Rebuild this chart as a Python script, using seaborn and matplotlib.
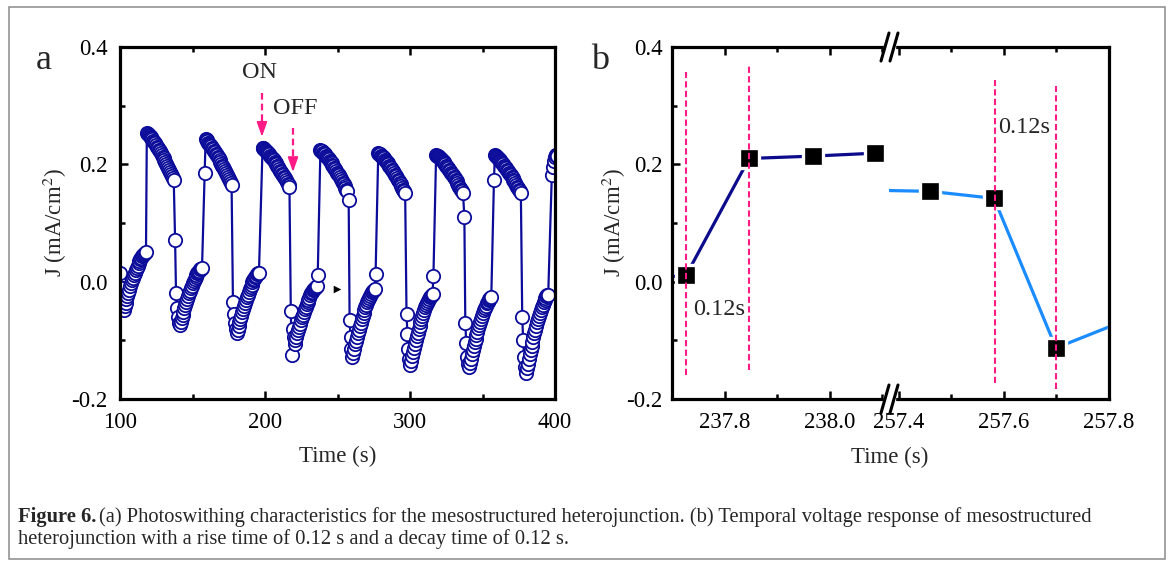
import numpy as np
import pandas as pd
import matplotlib
matplotlib.use("Agg")
import matplotlib.pyplot as plt
import seaborn as sns
from matplotlib.patches import Rectangle
from matplotlib.lines import Line2D
from matplotlib.ticker import FixedLocator, FixedFormatter

sns.set_theme(style="white")
plt.rcParams['font.family'] = ['Liberation Serif', 'DejaVu Serif']
plt.rcParams['mathtext.fontset'] = 'stix'
plt.rcParams['axes.unicode_minus'] = False

# ---------------- panel a data (photo-switching, J in mA/cm2) ----------------
dt_a = 0.64  # sampling interval (s)
seg_starts = [100.0, 118.5, 138.0, 158.4, 177.9, 198.3, 217.8, 238.2,
              257.7, 278.1, 297.6, 318.0, 337.5, 357.9, 377.4, 397.8]
off0 = [0.015, -0.010, -0.030, -0.043,
        -0.048, -0.042, -0.036, -0.030, -0.025, -0.019, -0.014, -0.008, -0.003, 0.002, 0.006,
        0.011, 0.015, 0.020, 0.024, 0.027, 0.031, 0.035, 0.038, 0.041, 0.043, 0.046, 0.048,
        0.049, 0.050]
on1 = [0.253, 0.252, 0.250, 0.249, 0.247, 0.245, 0.243, 0.240, 0.238, 0.236, 0.233, 0.230,
       0.228, 0.225, 0.222, 0.219, 0.216, 0.213, 0.210, 0.207, 0.204, 0.200, 0.197, 0.194,
       0.190, 0.187, 0.184, 0.180, 0.177, 0.173]
off1 = [0.071, -0.020, -0.045, -0.060, -0.070,
        -0.074, -0.068, -0.062, -0.056, -0.051, -0.045, -0.040, -0.035, -0.030, -0.025,
        -0.020, -0.016, -0.011, -0.007, -0.003, 0.001, 0.004, 0.008, 0.011, 0.014, 0.016,
        0.019, 0.021, 0.022, 0.023]
on2 = [0.185, 0.243, 0.241, 0.239, 0.237, 0.235, 0.233, 0.231, 0.228, 0.226, 0.223, 0.221,
       0.218, 0.216, 0.213, 0.210, 0.207, 0.204, 0.201, 0.198, 0.195, 0.192, 0.189, 0.185,
       0.182, 0.179, 0.175, 0.172, 0.168, 0.165]
off2 = [-0.035, -0.055, -0.070, -0.080,
        -0.088, -0.082, -0.075, -0.069, -0.063, -0.058, -0.052, -0.046, -0.041, -0.036,
        -0.031, -0.026, -0.022, -0.017, -0.013, -0.009, -0.005, -0.001, 0.002, 0.005, 0.008,
        0.010, 0.013, 0.014, 0.015]
on3 = [0.228, 0.227, 0.226, 0.225, 0.223, 0.221, 0.219, 0.217, 0.215, 0.213, 0.211, 0.209,
       0.207, 0.204, 0.202, 0.200, 0.197, 0.195, 0.192, 0.189, 0.187, 0.184, 0.181, 0.178,
       0.176, 0.173, 0.170, 0.167, 0.164, 0.161]
off3 = [-0.050, -0.125, -0.080, -0.095,
        -0.106, -0.100, -0.094, -0.088, -0.083, -0.077, -0.072, -0.066, -0.061, -0.056,
        -0.052, -0.047, -0.043, -0.038, -0.034, -0.031, -0.027, -0.023, -0.020, -0.017,
        -0.015, -0.012, -0.010, -0.009, -0.008, 0.011]
on4 = [0.224, 0.223, 0.222, 0.220, 0.219, 0.217, 0.215, 0.213, 0.211, 0.209, 0.206, 0.204,
       0.202, 0.199, 0.197, 0.194, 0.192, 0.189, 0.186, 0.184, 0.181, 0.178, 0.175, 0.172,
       0.169, 0.166, 0.163, 0.160, 0.157, 0.154]
off4 = [0.140, -0.065, -0.095, -0.115,
        -0.128, -0.121, -0.114, -0.107, -0.101, -0.094, -0.088, -0.082, -0.076, -0.070,
        -0.064, -0.059, -0.054, -0.049, -0.044, -0.039, -0.035, -0.031, -0.027, -0.024,
        -0.021, -0.018, -0.016, -0.014, -0.013, 0.013]
on5 = [0.219, 0.218, 0.217, 0.215, 0.214, 0.212, 0.210, 0.208, 0.206, 0.204, 0.202, 0.200,
       0.197, 0.195, 0.193, 0.190, 0.188, 0.185, 0.182, 0.180, 0.177, 0.174, 0.171, 0.169,
       0.166, 0.163, 0.160, 0.157, 0.154, 0.151]
off5 = [-0.055, -0.090, -0.115, -0.132,
        -0.142, -0.135, -0.127, -0.120, -0.113, -0.106, -0.100, -0.093, -0.087, -0.081,
        -0.075, -0.069, -0.064, -0.059, -0.054, -0.049, -0.044, -0.040, -0.036, -0.033,
        -0.029, -0.026, -0.024, -0.022, -0.021, 0.010]
on6 = [0.216, 0.215, 0.214, 0.213, 0.211, 0.209, 0.208, 0.206, 0.204, 0.202, 0.200, 0.198,
       0.195, 0.193, 0.191, 0.188, 0.186, 0.184, 0.181, 0.179, 0.176, 0.173, 0.171, 0.168,
       0.165, 0.162, 0.160, 0.157, 0.154, 0.151]
off6 = [0.110, -0.070, -0.105, -0.128, -0.141,
        -0.145, -0.138, -0.131, -0.123, -0.117, -0.110, -0.103, -0.097, -0.091, -0.085,
        -0.079, -0.074, -0.068, -0.063, -0.058, -0.053, -0.049, -0.045, -0.041, -0.037,
        -0.034, -0.031, -0.029, -0.027, -0.026]
on7 = [0.173, 0.216, 0.214, 0.213, 0.211, 0.209, 0.208, 0.206, 0.204, 0.202, 0.200, 0.198,
       0.195, 0.193, 0.191, 0.188, 0.186, 0.184, 0.181, 0.179, 0.176, 0.173, 0.171, 0.168,
       0.165, 0.162, 0.160, 0.157, 0.154, 0.151]
off7 = [-0.060, -0.100, -0.128, -0.146,
        -0.156, -0.148, -0.140, -0.132, -0.124, -0.116, -0.109, -0.102, -0.095, -0.088,
        -0.082, -0.075, -0.069, -0.064, -0.058, -0.053, -0.048, -0.043, -0.039, -0.035,
        -0.031, -0.028, -0.025, -0.023, -0.022]
on8 = [0.181, 0.195, 0.205, 0.212, 0.216, 0.216, 0.215]
segments_a = [off0, on1, off1, on2, off2, on3, off3, on4, off4, on5, off5, on6, off6, on7, off7, on8]

# odd black arrowhead mark
mark_t = [249.7]
mark_j = [-0.012]

# annotation arrows (ON / OFF): t, tail J, tip J
on_arrow = (197.9, 0.322, 0.247)
off_arrow = (219.3, 0.262, 0.187)

# ---------------- panel b data ----------------
b_rise_t = [237.60, 237.727, 237.847, 237.968, 238.086]
b_rise_j = [0.000, 0.011, 0.210, 0.214, 0.219]
b_decay_t = [257.34, 257.459, 257.581, 257.699, 257.82]
b_decay_j = [0.156, 0.154, 0.142, -0.113, -0.070]
vline_t = [237.727, 237.847, 257.583, 257.700]
vline_top = [0.357, 0.369, 0.344, 0.334]
vline_bot = [-0.159, -0.150, -0.172, -0.183]

# ticks
a_xticks = [100, 200, 300, 400]
a_xminor = [150, 250, 350]
yticks = [-0.2, 0.0, 0.2, 0.4]
yminor = [-0.1, 0.1, 0.3]
b1_xticks = [237.8, 238.0]
b1_xminor = [237.9, 238.1]
b2_xticks = [257.4, 257.6, 257.8]
b2_xminor = [257.5, 257.7]

navy = "#0c0c9a"
navy_b = "#0b0b8c"
lblue = "#1a8cff"
pink = "#ff1a85"
TS = 16.5

# ---------------- build figure ----------------
W, H = 1168, 564
fig = plt.figure(figsize=(W / 100, H / 100), dpi=100)
fig.patch.set_facecolor("white")

def px(l, t, r, b):
    return [l / W, 1 - b / H, (r - l) / W, (b - t) / H]

ax_a = fig.add_axes(px(120, 47, 555, 399))
ax_b1 = fig.add_axes(px(672, 47, 889, 399))
ax_b2 = fig.add_axes(px(889, 47, 1109, 399))

def style(ax, ypad=9):
    ax.set_facecolor("white")
    for s in ax.spines.values():
        s.set_linewidth(2.3)
        s.set_color("black")
        s.set_visible(True)
    ax.tick_params(which="both", direction="in", top=True, right=False,
                   bottom=True, left=True, width=1.8, colors="black",
                   labelsize=TS)
    ax.tick_params(axis="x", which="both", pad=9)
    ax.tick_params(axis="y", which="both", pad=ypad)
    ax.tick_params(which="major", length=6)
    ax.tick_params(which="minor", length=3.5)
    ax.grid(False)

# --- panel a ---
t_list, j_list = [], []
for st, seg in zip(seg_starts, segments_a):
    for i, v in enumerate(seg):
        t_list.append(st + i * dt_a)
        j_list.append(v)
df_a = pd.DataFrame({"t": t_list, "J": j_list})
sns.lineplot(data=df_a, x="t", y="J", ax=ax_a, sort=False, estimator=None,
             color=navy, lw=1.6, marker="o", markersize=9.6,
             markerfacecolor="white", markeredgecolor=navy,
             markeredgewidth=1.3)
sns.scatterplot(x=mark_t, y=mark_j, ax=ax_a, marker=">", s=30,
                color="black", edgecolor="black", linewidth=0, zorder=5)
ax_a.set_xlim(100, 400)
ax_a.set_ylim(-0.2, 0.4)
style(ax_a)
ax_a.xaxis.set_major_locator(FixedLocator(a_xticks))
ax_a.xaxis.set_major_formatter(FixedFormatter([str(v) for v in a_xticks]))
ax_a.xaxis.set_minor_locator(FixedLocator(a_xminor))
ax_a.yaxis.set_major_locator(FixedLocator(yticks))
ax_a.yaxis.set_major_formatter(FixedFormatter([f"{v:.1f}" for v in yticks]))
ax_a.yaxis.set_minor_locator(FixedLocator(yminor))
ax_a.set_xlabel("Time (s)", fontsize=TS)
ax_a.xaxis.set_label_coords(0.5, -0.133)
ax_a.set_ylabel("J (mA/cm$^2$)", fontsize=TS)
ax_a.yaxis.set_label_coords(-0.117, 0.5)

for (t, tail, tip) in (on_arrow, off_arrow):
    ax_a.plot([t, t], [tail, tip + 0.016], color=pink, lw=1.6,
              linestyle=(0, (3, 1.8)), zorder=6)
    ax_a.annotate("", xy=(t, tip), xytext=(t, tip + 0.024),
                  arrowprops=dict(arrowstyle="-|>,head_length=0.45,head_width=0.16",
                                  color=pink, lw=1.2, shrinkA=0, shrinkB=0,
                                  mutation_scale=20), zorder=6)
ax_a.text(196.5, 0.357, "ON", fontsize=17.5, ha="center", va="center")
ax_a.text(221.0, 0.296, "OFF", fontsize=17.5, ha="center", va="center")

# --- panel b ---
sq_kw = dict(sort=False, estimator=None, lw=2.3, marker="s", markersize=15,
             markerfacecolor="black", markeredgecolor="white",
             markeredgewidth=2.4)
sns.lineplot(x=b_rise_t, y=b_rise_j, ax=ax_b1, color=navy_b, **sq_kw)
sns.lineplot(x=b_decay_t, y=b_decay_j, ax=ax_b2, color=lblue, **sq_kw)

for ax in (ax_b1, ax_b2):
    for t, top, bot in zip(vline_t, vline_top, vline_bot):
        ax.plot([t, t], [bot, top], color=pink, lw=1.5,
                linestyle=(0, (3, 1.6)), zorder=6)

ax_b1.set_xlim(237.70, 237.70 + 217 / 525)
ax_b2.set_xlim(257.8 - 220 / 525, 257.8)
for ax in (ax_b1, ax_b2):
    ax.set_ylim(-0.2, 0.4)
    style(ax, ypad=7)
    ax.set_xlabel("")
    ax.set_ylabel("")
ax_b1.xaxis.set_major_locator(FixedLocator(b1_xticks))
ax_b1.xaxis.set_major_formatter(FixedFormatter([f"{v:.1f}" for v in b1_xticks]))
ax_b1.xaxis.set_minor_locator(FixedLocator(b1_xminor))
ax_b2.xaxis.set_major_locator(FixedLocator(b2_xticks))
ax_b2.xaxis.set_major_formatter(FixedFormatter([f"{v:.1f}" for v in b2_xticks]))
ax_b2.xaxis.set_minor_locator(FixedLocator(b2_xminor))
ax_b1.yaxis.set_major_locator(FixedLocator(yticks))
ax_b1.yaxis.set_major_formatter(FixedFormatter([f"{v:.1f}" for v in yticks]))
ax_b1.yaxis.set_minor_locator(FixedLocator(yminor))
ax_b1.spines["right"].set_visible(False)
ax_b2.spines["left"].set_visible(False)
ax_b2.tick_params(axis="y", which="both", left=False, labelleft=False)
ax_b1.set_ylabel("J (mA/cm$^2$)", fontsize=TS)
ax_b1.yaxis.set_label_coords(-0.205, 0.5)

ax_b1.text(237.740, -0.048, "0.12s", fontsize=17.5, ha="left", va="center")
ax_b2.text(257.589, 0.262, "0.12s", fontsize=17.5, ha="left", va="center")

fig.text(890 / W, 1 - 457 / H, "Time (s)", fontsize=TS, ha="center", va="center")

# break marks on the shared frame
for yb in (47, 399):
    fig.add_artist(Rectangle((884 / W, 1 - (yb + 3) / H), 11 / W, 6 / H,
                             transform=fig.transFigure, color="white",
                             zorder=10))
    for xc in (885, 894):
        fig.add_artist(Line2D([(xc - 4) / W, (xc + 4) / W],
                              [1 - (yb + 14) / H, 1 - (yb - 14) / H],
                              transform=fig.transFigure, color="black",
                              lw=2.2, zorder=11))

# panel letters
fig.text(44 / W, 1 - 69 / H, "a", fontsize=26, ha="center", va="baseline")
fig.text(600 / W, 1 - 69 / H, "b", fontsize=26, ha="center", va="baseline")

# outer frame
fig.add_artist(Rectangle((9 / W, 1 - 559 / H), 1156 / W, 552 / H,
                         transform=fig.transFigure, fill=False,
                         edgecolor="#8a8a8a", lw=1.1, zorder=0))

# caption
cap_size = 14.8
r = fig.canvas.get_renderer()
t1 = fig.text(18 / W, 1 - 522 / H, "Figure 6.", fontsize=cap_size,
              fontweight="bold", ha="left", va="baseline")
bb = t1.get_window_extent(renderer=r)
fig.text((bb.x1 + 3) / W, 1 - 522 / H,
         "(a) Photoswithing characteristics for the mesostructured heterojunction. "
         "(b) Temporal voltage response of mesostructured",
         fontsize=cap_size, ha="left", va="baseline")
fig.text(18 / W, 1 - 544 / H,
         "heterojunction with a rise time of 0.12 s and a decay time of 0.12 s.",
         fontsize=cap_size, ha="left", va="baseline")

fig.savefig("out.png", dpi=100, facecolor="white")
